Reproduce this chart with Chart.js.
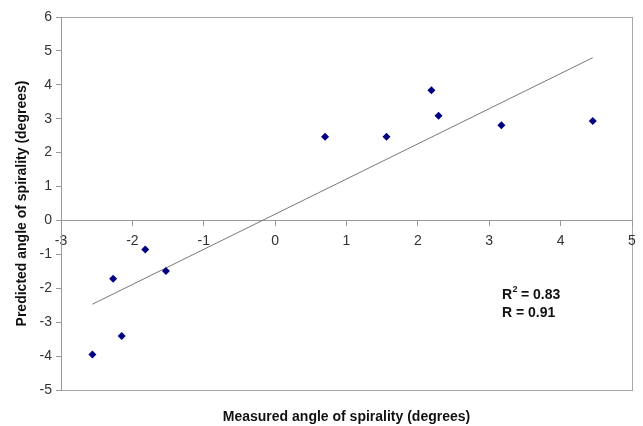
<!DOCTYPE html>
<html>
<head>
<meta charset="utf-8">
<script src="https://cdn.jsdelivr.net/npm/chart.js@4/dist/chart.umd.min.js"></script>
<style>
  html, body { margin: 0; padding: 0; background: #fff; }
  #wrap { width: 643px; height: 426px; }
</style>
</head>
<body>
<div id="wrap"><canvas id="myChart" width="643" height="426"></canvas></div>
<script>
// datos
const measured  = [-2.56, -2.27, -2.15, -1.82, -1.53, 0.70, 1.56, 2.19, 2.29, 3.17, 4.45];
const predicted = [-3.95, -1.72, -3.41, -0.86, -1.49, 2.47, 2.47, 3.84, 3.09, 2.81, 2.93];
const trendX = [-2.56, 4.45];
const trendY = [-2.47, 4.80];
const xRange = [-3, 5];
const yRange = [-5, 6];
const xTitle = 'Measured angle of spirality (degrees)';
const yTitle = 'Predicted angle of spirality (degrees)';
const statLines = ['R', ' = 0.83', 'R = 0.91'];

const ctx = document.getElementById('myChart');
Chart.defaults.font.family = '"Liberation Sans", Arial, sans-serif';
Chart.defaults.color = '#333';

// marco del area, titulo x y la anotacion R
const extras = {
  id: 'extras',
  beforeDraw(chart) {
    const c = chart.ctx, a = chart.chartArea;
    c.save();
    c.strokeStyle = '#a8a8a8';
    c.lineWidth = 1;
    c.strokeRect(Math.round(a.left) + 0.5, Math.round(a.top) + 0.5,
      Math.round(a.right - a.left), Math.round(a.bottom - a.top));
    c.restore();
  },
  afterDraw(chart) {
    const c = chart.ctx, a = chart.chartArea;
    c.save();
    c.fillStyle = '#111';
    c.font = 'bold 14px "Liberation Sans", Arial, sans-serif';
    c.textAlign = 'center';
    c.textBaseline = 'alphabetic';
    c.fillText(xTitle, (a.left + a.right) / 2, 421);

    const x0 = 502;
    c.textAlign = 'left';
    c.fillText(statLines[0], x0, 299);
    const w = c.measureText(statLines[0]).width;
    c.font = 'bold 9px "Liberation Sans", Arial, sans-serif';
    c.fillText('2', x0 + w + 0.5, 292);
    c.font = 'bold 14px "Liberation Sans", Arial, sans-serif';
    c.fillText(statLines[1], x0 + w + 5, 299);
    c.fillText(statLines[2], x0, 317);
    c.restore();
  }
};

new Chart(ctx, {
  type: 'scatter',
  data: {
    datasets: [{
      label: 'Datos',
      data: measured.map((v, i) => ({ x: v, y: predicted[i] })),
      pointStyle: 'rectRot',
      pointRadius: 4,
      pointHoverRadius: 4,
      backgroundColor: '#000080',
      borderColor: '#000080',
      borderWidth: 0
    }, {
      label: 'Tendencia',
      type: 'line',
      data: trendX.map((v, i) => ({ x: v, y: trendY[i] })),
      borderColor: '#777',
      borderWidth: 1,
      pointRadius: 0,
      fill: false
    }]
  },
  options: {
    responsive: false,
    animation: false,
    layout: { padding: { left: 0, top: 17, right: 11, bottom: 36 } },
    scales: {
      x: {
        type: 'linear',
        position: { y: 0 },
        min: xRange[0],
        max: xRange[1],
        ticks: {
          stepSize: 1,
          padding: 7,
          color: '#333',
          font: { size: 14 }
        },
        grid: { drawOnChartArea: false, tickColor: '#999', tickLength: 5 },
        border: { color: '#999', width: 1 }
      },
      y: {
        min: yRange[0],
        max: yRange[1],
        afterFit: s => { s.width = 61; },
        ticks: {
          stepSize: 1,
          padding: 4,
          color: '#333',
          font: { size: 14 }
        },
        grid: { drawOnChartArea: false, tickColor: '#999', tickLength: 5 },
        border: { color: '#999', width: 1 },
        title: {
          display: true,
          text: yTitle,
          color: '#111',
          font: { size: 14, weight: 'bold' },
          padding: { top: 14, bottom: 0 }
        }
      }
    },
    plugins: {
      legend: { display: false },
      tooltip: { enabled: false }
    }
  },
  plugins: [extras]
});
</script>
</body>
</html>
